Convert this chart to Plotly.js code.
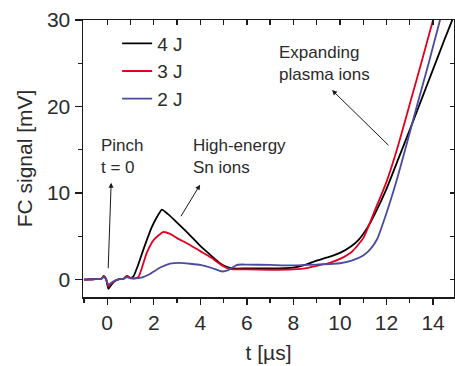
<!DOCTYPE html>
<html>
<head>
<meta charset="utf-8">
<script src="https://cdn.plot.ly/plotly-3.0.1.min.js"></script>
<style>html,body{margin:0;padding:0;background:#fff;}#chart{width:455px;height:366px;}</style>
</head>
<body>
<div id="chart"></div>
<script>
// Time axis (µs) and FC signal (mV) for each laser energy
const t4J = [-1, -0.6, -0.25, -0.15, -0.05, 0.05, 0.15, 0.3, 0.5, 0.7, 0.85, 1.0, 1.12, 1.3, 1.55, 1.92, 2.15, 2.35, 2.6, 3.0, 3.5, 4.0, 4.5, 4.8, 5.1, 5.4, 6, 7, 8, 8.5, 9, 9.5, 10, 10.5, 10.8, 11.2, 11.5, 12.0, 12.5, 13.0, 13.5, 14.0, 14.5, 14.84, 15.0];
const v4J = [0, 0.05, 0.1, 0.45, 0.1, -1.05, -0.7, -0.2, 0.05, 0.1, 0.45, 0.2, 0.35, 1.5, 3.45, 6.1, 7.3, 8.1, 7.6, 6.6, 5.3, 3.9, 2.7, 2.0, 1.5, 1.3, 1.3, 1.3, 1.4, 1.7, 2.2, 2.6, 3.1, 3.9, 4.6, 6.1, 7.6, 10.5, 13.9, 17.3, 20.8, 24.3, 27.8, 30.1, 31.2];

const t3J = [-1, -0.6, -0.25, -0.15, -0.05, 0.05, 0.15, 0.3, 0.5, 0.7, 0.85, 1.0, 1.2, 1.35, 1.7, 2.0, 2.4, 2.7, 3.0, 3.5, 4.0, 4.5, 4.8, 5.1, 5.4, 6, 7, 8, 8.5, 9, 9.5, 10, 10.5, 11.0, 11.5, 12.0, 12.5, 13.0, 13.5, 14.0, 14.15];
const v3J = [0, 0.05, 0.1, 0.4, 0.1, -0.8, -0.5, -0.2, 0.05, 0.1, 0.4, 0.2, 0.15, 0.35, 3.1, 4.6, 5.5, 5.3, 4.8, 4.1, 3.3, 2.5, 1.9, 1.4, 1.2, 1.2, 1.15, 1.2, 1.3, 1.6, 1.9, 2.4, 3.2, 4.8, 8.0, 11.3, 15.5, 20.3, 25.1, 30.0, 31.5];

const t2J = [-1, -0.6, -0.25, -0.15, -0.05, 0.05, 0.15, 0.3, 0.5, 0.7, 0.85, 1.0, 1.42, 1.8, 2.28, 2.7, 3.1, 3.57, 4.0, 4.5, 4.93, 5.2, 5.58, 6, 7, 8, 9, 10, 10.5, 11.0, 11.3, 11.6, 12.0, 12.45, 12.9, 13.3, 13.8, 14.28, 14.45];
const v2J = [0, 0.05, 0.1, 0.3, 0.05, -0.6, -0.4, -0.15, 0.05, 0.1, 0.3, 0.15, 0.2, 0.6, 1.4, 1.85, 1.95, 1.84, 1.7, 1.35, 0.95, 1.1, 1.72, 1.75, 1.7, 1.65, 1.75, 1.9, 2.2, 2.8, 3.5, 4.7, 7.7, 11.6, 16.0, 20.0, 24.9, 29.8, 31.5];

const seriesNames = ['4 J', '3 J', '2 J'];
const seriesColors = ['#000000', '#e3001f', '#4a4a9e'];

const FONT = 'Arial, "Liberation Sans", sans-serif';
const TXT = '#2b2b2b';

const xs = [t4J, t3J, t2J];
const ys = [v4J, v3J, v2J];
const traces = xs.map((x, i) => ({
  x: x, y: ys[i], name: seriesNames[i], type: 'scatter', mode: 'lines',
  line: {color: seriesColors[i], width: 1.8, shape: 'spline', smoothing: 0.5},
  xaxis: 'x', yaxis: 'y'
}));
// invisible helpers so the mirrored frame axes get drawn
traces.push({x: [0], y: [0], xaxis: 'x2', yaxis: 'y', mode: 'markers', marker: {opacity: 0}, showlegend: false, hoverinfo: 'skip'});
traces.push({x: [0], y: [0], xaxis: 'x', yaxis: 'y2', mode: 'markers', marker: {opacity: 0}, showlegend: false, hoverinfo: 'skip'});

const XR = [-1.04, 14.9];
const YR = [-2, 30];

const arrowStyle = {text: '', showarrow: true, arrowhead: 2, arrowsize: 1, arrowwidth: 1, arrowcolor: '#1a1a1a', axref: 'x', ayref: 'y', xref: 'x', yref: 'y'};
const textStyle = {showarrow: false, xref: 'x', yref: 'y', xanchor: 'left', yanchor: 'middle', align: 'left', font: {family: FONT, size: 17, color: TXT}};

const layout = {
  width: 455, height: 366,
  margin: {l: 83, r: 1, t: 20, b: 69, pad: 0},
  paper_bgcolor: '#fff', plot_bgcolor: '#fff',
  font: {family: FONT, color: TXT},
  showlegend: true,
  legend: {x: 0.092, y: 0.984, xanchor: 'left', yanchor: 'top', bgcolor: 'rgba(0,0,0,0)', font: {family: FONT, size: 19, color: TXT}, tracegroupgap: 0},
  xaxis: {
    range: XR, showgrid: false, zeroline: false, showline: true, linecolor: '#1a1a1a', linewidth: 1.5,
    ticks: 'outside', tick0: 0, dtick: 2, ticklen: 6, tickwidth: 1.3, tickcolor: '#1a1a1a',
    minor: {dtick: 1, tick0: 0, ticks: 'outside', ticklen: 4, tickwidth: 1.3, tickcolor: '#1a1a1a'},
    tickfont: {family: FONT, size: 21, color: TXT},
    title: {text: 't [\u00b5s]', font: {family: FONT, size: 21, color: TXT}, standoff: 12}
  },
  yaxis: {
    range: YR, showgrid: false, zeroline: false, showline: true, linecolor: '#1a1a1a', linewidth: 1.5,
    ticks: 'outside', tick0: 0, dtick: 10, ticklen: 7, tickwidth: 1.3, tickcolor: '#1a1a1a',
    minor: {dtick: 5, tick0: 0, ticks: 'outside', ticklen: 4, tickwidth: 1.3, tickcolor: '#1a1a1a'},
    tickfont: {family: FONT, size: 21, color: TXT},
    title: {text: 'FC signal [mV]', font: {family: FONT, size: 21, color: TXT}, standoff: 8}
  },
  xaxis2: {
    overlaying: 'x', side: 'top', anchor: 'y', range: XR, showgrid: false, zeroline: false,
    showline: true, linecolor: '#1a1a1a', linewidth: 1.5, showticklabels: false,
    ticks: 'inside', tick0: 0, dtick: 1, ticklen: 5, tickwidth: 1.3, tickcolor: '#1a1a1a'
  },
  yaxis2: {
    overlaying: 'y', side: 'right', anchor: 'x', range: YR, showgrid: false, zeroline: false,
    showline: true, linecolor: '#1a1a1a', linewidth: 1.5, showticklabels: false,
    ticks: 'inside', tick0: 0, dtick: 5, ticklen: 4, tickwidth: 1.3, tickcolor: '#1a1a1a'
  },
  annotations: [
    Object.assign({}, textStyle, {x: -0.35, y: 14.2, text: 'Pinch<br>t = 0'}),
    Object.assign({}, textStyle, {x: 3.62, y: 14.2, text: 'High-energy<br>Sn ions'}),
    Object.assign({}, textStyle, {x: 7.28, y: 25.0, text: 'Expanding<br>plasma ions'}),
    Object.assign({}, arrowStyle, {x: 0.17, y: 11.2, ax: 0.04, ay: 1.15}),
    Object.assign({}, arrowStyle, {x: 3.99, y: 10.97, ax: 3.13, ay: 7.16}),
    Object.assign({}, arrowStyle, {x: 9.66, y: 21.9, ax: 12.15, ay: 15.36})
  ]
};

Plotly.newPlot('chart', traces, layout, {staticPlot: true, displayModeBar: false});
</script>
</body>
</html>
